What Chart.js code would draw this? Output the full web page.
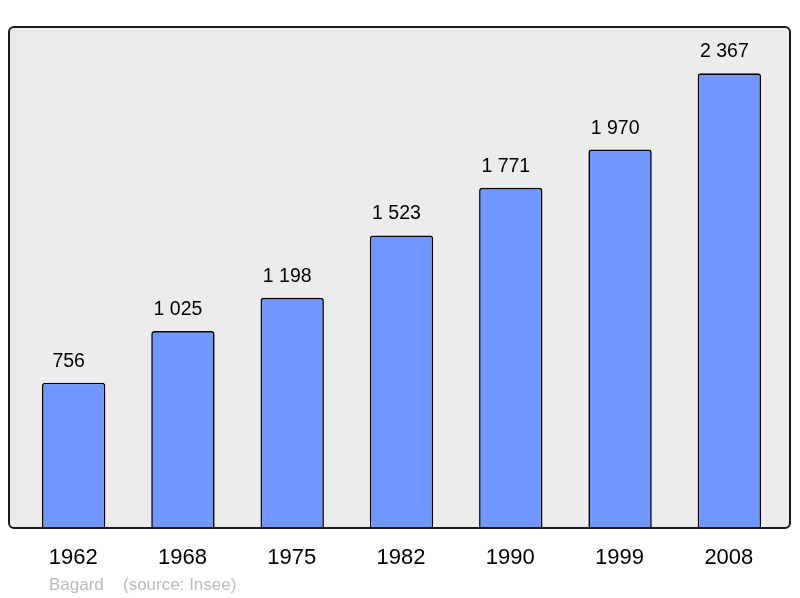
<!DOCTYPE html>
<html>
<head>
<meta charset="utf-8">
<script src="https://cdn.jsdelivr.net/npm/chart.js@4/dist/chart.umd.min.js"></script>
<style>
  html, body { margin: 0; padding: 0; background: #fff; }
  #wrap { width: 800px; height: 598px; }
</style>
</head>
<body>
<div id="wrap"><canvas id="chart" width="800" height="598"></canvas></div>
<script>
var years = ['1962', '1968', '1975', '1982', '1990', '1999', '2008'];
var population = [756, 1025, 1198, 1523, 1771, 1970, 2367];
var footerName = 'Bagard';
var footerSource = '(source: Insee)';

var FONT = '"Liberation Sans", Arial, sans-serif';

function fmt(n) {
  return String(n).replace(/\B(?=(\d{3})+(?!\d))/g, ' ');
}

function roundRectPath(ctx, x, y, w, h, r) {
  ctx.beginPath();
  ctx.moveTo(x + r, y);
  ctx.lineTo(x + w - r, y);
  ctx.arc(x + w - r, y + r, r, Math.PI * 1.5, 0, false);
  ctx.lineTo(x + w, y + h - r);
  ctx.arc(x + w - r, y + h - r, r, 0, Math.PI * 0.5, false);
  ctx.lineTo(x + r, y + h);
  ctx.arc(x + r, y + h - r, r, Math.PI * 0.5, Math.PI, false);
  ctx.lineTo(x, y + r);
  ctx.arc(x + r, y + r, r, Math.PI, Math.PI * 1.5, false);
  ctx.closePath();
}

// plot frame, a bit wider than the category area
var frame = { left: 9, top: 27, right: 790, bottom: 528 };

new Chart(document.getElementById('chart'), {
  type: 'bar',
  data: {
    labels: years,
    datasets: [{
      data: population,
      backgroundColor: '#7096ff',
      borderColor: '#000000',
      borderWidth: 1.6,
      borderSkipped: 'bottom',
      borderRadius: { topLeft: 3, topRight: 3, bottomLeft: 0, bottomRight: 0 },
      barPercentage: 0.58,
      categoryPercentage: 1
    }]
  },
  options: {
    responsive: false,
    animation: { duration: 0 },
    layout: { padding: { left: 19, right: 16, top: 27, bottom: 70 } },
    scales: {
      x: { display: false, offset: true },
      y: { display: false, min: 0, max: 2608 }
    },
    plugins: {
      legend: { display: false },
      tooltip: { enabled: false }
    }
  },
  plugins: [{
    beforeDatasetsDraw: function (c) {
      var ctx = c.ctx;
      ctx.save();
      ctx.fillStyle = '#ececec';
      roundRectPath(ctx, frame.left, frame.top, frame.right - frame.left, frame.bottom - frame.top, 5);
      ctx.fill();
      ctx.restore();
    },
    afterDatasetsDraw: function (c) {
      var ctx = c.ctx;
      ctx.save();
      ctx.strokeStyle = '#1a1a1a';
      ctx.lineWidth = 2;
      roundRectPath(ctx, frame.left, frame.top, frame.right - frame.left, frame.bottom - frame.top, 5);
      ctx.stroke();

      var xs = c.scales.x;
      var meta = c.getDatasetMeta(0);
      ctx.textAlign = 'center';
      ctx.textBaseline = 'alphabetic';
      ctx.fillStyle = '#000';
      ctx.font = '19.5px ' + FONT;
      meta.data.forEach(function (bar, i) {
        // the value labels sit a little left of the bar centre
        ctx.fillText(fmt(population[i]), bar.x - 5, bar.y - 16);
      });
      ctx.font = '22px ' + FONT;
      years.forEach(function (y, i) {
        ctx.fillText(y, xs.getPixelForValue(i) - 0.5, 564);
      });

      ctx.textAlign = 'left';
      ctx.fillStyle = '#bbbbbb';
      ctx.font = '17px ' + FONT;
      ctx.fillText(footerName, 49, 590);
      ctx.fillText(footerSource, 123, 590);
      ctx.restore();
    }
  }]
});
</script>
</body>
</html>
